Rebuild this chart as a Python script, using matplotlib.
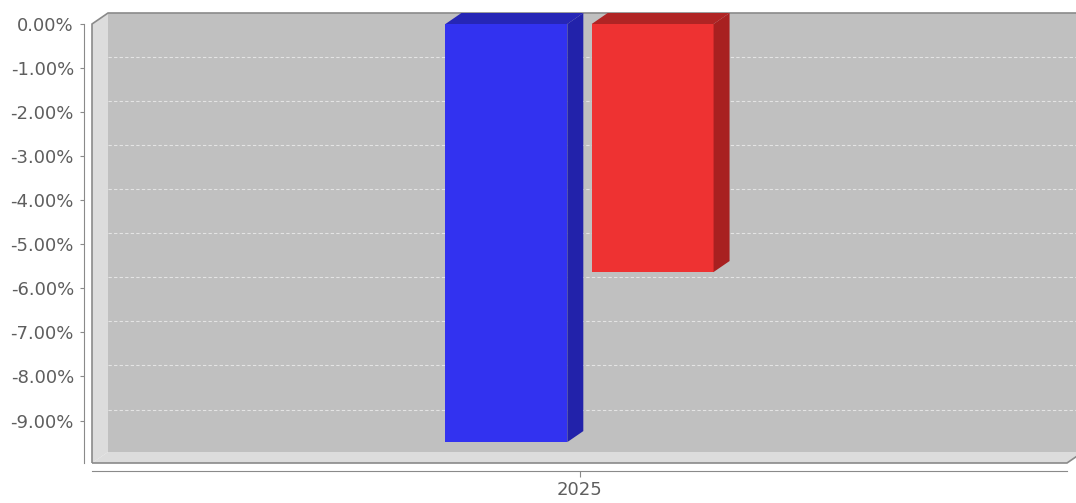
import numpy as np
import matplotlib
matplotlib.use("Agg")
import matplotlib.pyplot as plt
from matplotlib.patches import Polygon

categories = ["2025"]
series_a = [-9.49]
series_b = [-5.63]
y_ticks = [0, -1, -2, -3, -4, -5, -6, -7, -8, -9]

W, H = 1076, 503
fig = plt.figure(figsize=(W / 100, H / 100), dpi=100)
fig.patch.set_facecolor("white")
ax = fig.add_axes([92 / W, 40 / H, 975 / W, 439 / H])
ax.set_facecolor("none")

x0, x1 = -0.5, 0.5
y0, y1 = min(series_a + series_b) * 1.05, 0.0
ax.set_xlim(x0, x1)
ax.set_ylim(y0, y1)

# 3d depth in data units (16px right, 11px up)
ddx = 16 / 975 * (x1 - x0)
ddy = 11 / 439 * (y1 - y0)

wall = "#c0c0c0"
side = "#dcdcdc"
edge = "#8a8a8a"

back = Polygon([(x0 + ddx, y0 + ddy), (x1 + ddx, y0 + ddy), (x1 + ddx, y1 + ddy), (x0 + ddx, y1 + ddy)],
               closed=True, fc=wall, ec="none", clip_on=False, zorder=1)
left = Polygon([(x0, y0), (x0, y1), (x0 + ddx, y1 + ddy), (x0 + ddx, y0 + ddy)],
               closed=True, fc=side, ec="none", clip_on=False, zorder=1)
floor = Polygon([(x0, y0), (x1, y0), (x1 + ddx, y0 + ddy), (x0 + ddx, y0 + ddy)],
                closed=True, fc=side, ec="none", clip_on=False, zorder=1)
for p in (back, left, floor):
    ax.add_patch(p)

for t in y_ticks[1:]:
    ax.plot([x0 + ddx, x1 + ddx], [t + ddy, t + ddy], color="#e4e4e4", lw=0.8,
            ls=(0, (3, 2)), clip_on=False, zorder=2)

outline = Polygon([(x0, y0), (x0, y1), (x0 + ddx, y1 + ddy), (x1 + ddx, y1 + ddy),
                   (x1 + ddx, y0 + ddy), (x1, y0)],
                  closed=True, fc="none", ec=edge, lw=1.2, clip_on=False, zorder=3)
ax.add_patch(outline)

width = 0.125
xpos = np.arange(len(categories))


def bar3d(xc, vals, front, dark, top):
    bars = ax.bar(xc, vals, width, color=front, zorder=4)
    for b in bars:
        bx, bw = b.get_x(), b.get_width()
        ytop = b.get_y()
        ybot = b.get_y() + b.get_height()
        ax.add_patch(Polygon([(bx + bw, ytop), (bx + bw + ddx, ytop + ddy),
                              (bx + bw + ddx, ybot + ddy), (bx + bw, ybot)],
                             closed=True, fc=dark, ec="none", zorder=4, clip_on=False))
        ax.add_patch(Polygon([(bx, ytop), (bx + ddx, ytop + ddy),
                              (bx + bw + ddx, ytop + ddy), (bx + bw, ytop)],
                             closed=True, fc=top, ec="none", zorder=4, clip_on=False))


bar3d(xpos - 0.075, series_a, "#3232f0", "#2222aa", "#2626b6")
bar3d(xpos + 0.075, series_b, "#ee3232", "#a82020", "#b02424")

ax.set_yticks(y_ticks)
ax.set_yticklabels(["{:.2f}%".format(t) for t in y_ticks])
ax.set_xticks(xpos)
ax.set_xticklabels(categories)

for s in ("top", "right"):
    ax.spines[s].set_visible(False)
ax.spines["left"].set_position(("outward", 6))
ax.spines["bottom"].set_position(("outward", 6))
ax.spines["left"].set_color(edge)
ax.spines["bottom"].set_color(edge)
ax.spines["left"].set_bounds(y0, y1)
ax.tick_params(axis="y", direction="out", length=3, pad=4, color=edge,
               labelcolor="#5e5e5e", labelsize=13)
ax.tick_params(axis="x", direction="out", length=4, pad=3, color=edge,
               labelcolor="#5e5e5e", labelsize=13)

fig.savefig("out.png", dpi=100, facecolor="white")
